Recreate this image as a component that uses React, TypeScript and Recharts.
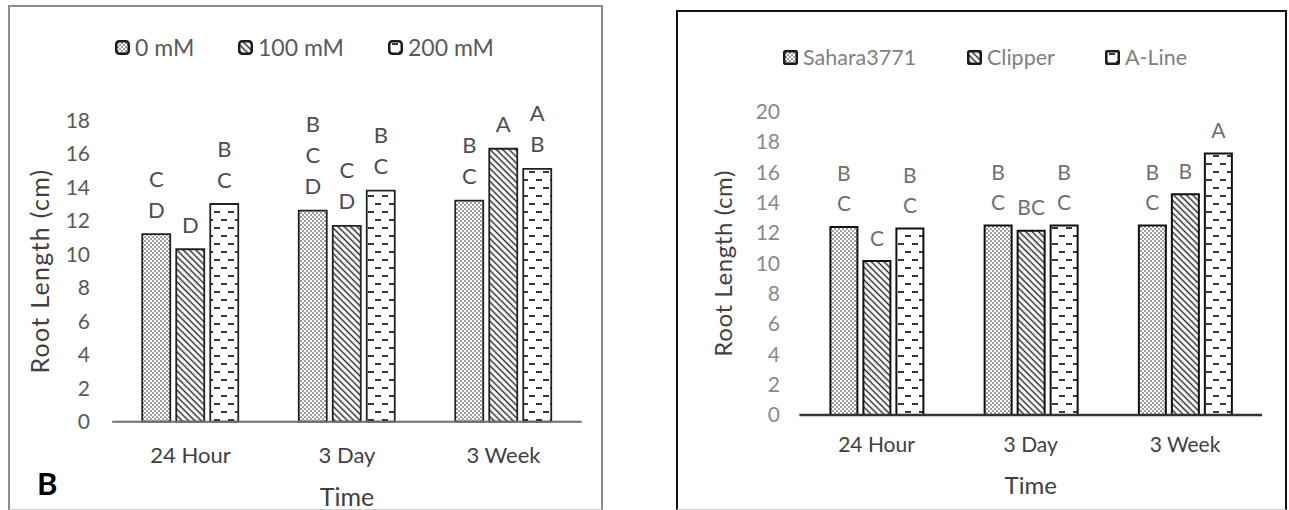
import { BarChart, Bar, XAxis, YAxis, Legend, LabelList, Label } from 'recharts'

const periods = ['24 Hour', '3 Day', '3 Week']

// panel B – salt treatments
const saltNames = ['0 mM', '100 mM', '200 mM']
const salt0 = [11.2, 12.6, 13.2]
const salt100 = [10.3, 11.7, 16.3]
const salt200 = [13.0, 13.8, 15.1]
const salt0Letters = ['C D', 'B C D', 'B C']
const salt100Letters = ['D', 'C D', 'A']
const salt200Letters = ['B C', 'B C', 'A B']
const saltTicks = [0, 2, 4, 6, 8, 10, 12, 14, 16, 18]

// cultivars
const cultivarNames = ['Sahara3771', 'Clipper', 'A-Line']
const sahara = [12.4, 12.5, 12.5]
const clipper = [10.15, 12.15, 14.55]
const aLine = [12.3, 12.5, 17.25]
const saharaLetters = ['B C', 'B C', 'B C']
const clipperLetters = ['C', 'BC', 'B']
const aLineLetters = ['B C', 'B C', 'A']
const cultivarTicks = [0, 2, 4, 6, 8, 10, 12, 14, 16, 18, 20]

const saltData = periods.map((p, i) => ({
  period: p,
  v0: salt0[i], v1: salt100[i], v2: salt200[i],
  l0: salt0Letters[i], l1: salt100Letters[i], l2: salt200Letters[i],
}))

const cultivarData = periods.map((p, i) => ({
  period: p,
  v0: sahara[i], v1: clipper[i], v2: aLine[i],
  l0: saharaLetters[i], l1: clipperLetters[i], l2: aLineLetters[i],
}))

const patternDefs = (p: string) => (
  <defs>
    <pattern id={`${p}-dots`} width="4" height="4" patternUnits="userSpaceOnUse">
      <rect width="4" height="4" fill="#fff" />
      <circle cx="1" cy="1" r="0.8" fill="#2a2a2a" />
      <circle cx="3" cy="3" r="0.8" fill="#2a2a2a" />
    </pattern>
    <pattern id={`${p}-hatch`} width="4.5" height="4.5" patternUnits="userSpaceOnUse" patternTransform="rotate(-45)">
      <rect width="4.5" height="4.5" fill="#fff" />
      <line x1="2.25" y1="0" x2="2.25" y2="4.5" stroke="#222" strokeWidth="1.4" />
    </pattern>
    <pattern id={`${p}-brick`} width="14" height="16" patternUnits="userSpaceOnUse">
      <rect width="14" height="16" fill="#fff" />
      <line x1="4" y1="4" x2="10" y2="4" stroke="#222" strokeWidth="1.8" />
      <line x1="-3" y1="12" x2="3" y2="12" stroke="#222" strokeWidth="1.8" />
      <line x1="11" y1="12" x2="17" y2="12" stroke="#222" strokeWidth="1.8" />
    </pattern>
  </defs>
)

const letterLabel = (gap: number, step: number, size: number, color: string) => (props: any) => {
  const vb = props.viewBox ?? props
  const { x, y, width } = vb
  if (props.value == null) return null
  const lines = String(props.value).split(' ')
  const n = lines.length
  return (
    <g>
      {lines.map((l, i) => (
        <text
          key={i}
          x={x + width / 2}
          y={y - gap - (n - 1 - i) * step}
          textAnchor="middle"
          dominantBaseline="central"
          fontSize={size}
          fill={color}
        >
          {l}
        </text>
      ))}
    </g>
  )
}

// legend keeps the series order (recharts sorts by name otherwise)
const legendContent = (order: string[], xs: number[], size: number, color: string, rounded: number) => (props: any) => {
  const items = [...(props.payload ?? [])].sort((a: any, b: any) => order.indexOf(a.value) - order.indexOf(b.value))
  return (
    <div style={{ position: 'relative', height: 30 }}>
      {items.map((e: any, i: number) => (
        <div key={e.value} style={{ position: 'absolute', left: xs[i], top: 0, height: 30, display: 'flex', alignItems: 'center', gap: 5 }}>
          <svg width={15} height={15}>
            <rect x={1.25} y={1.25} width={12.5} height={12.5} rx={rounded} fill={e.color} stroke="#1a1a1a" strokeWidth={2.5} />
          </svg>
          <span style={{ fontSize: size, color, lineHeight: '30px' }}>{e.value}</span>
        </div>
      ))}
    </div>
  )
}

const SaltChart = () => (
  <BarChart
    width={620}
    height={510}
    data={saltData}
    margin={{ top: 120.3, right: 38.25, bottom: 0, left: 0 }}
    barSize={28}
    barGap={6}
  >
    {patternDefs('salt')}
    <XAxis
      dataKey="period"
      height={88.3}
      tickLine={false}
      axisLine={{ stroke: '#6e6e6e', strokeWidth: 2 }}
      tick={{ fontSize: 22, fill: '#404040' }}
      tickMargin={19.4}
    >
      <Label value="Time" position="insideBottom" offset={4.3} style={{ fontSize: 25, fill: '#404040' }} />
      <Label
        content={() => (
          <text x={37} y={495} fontSize={31} fontWeight="bold" fill="#000">B</text>
        )}
      />
    </XAxis>
    <YAxis
      width={112.25}
      domain={[0, 18]}
      ticks={saltTicks}
      axisLine={false}
      tickLine={false}
      tickMargin={16.25}
      tick={{ fontSize: 21, fill: '#595959' }}
    >
      <Label value="Root Length (cm)" angle={-90} position="insideLeft" offset={40} style={{ fontSize: 25, fill: '#404040', textAnchor: 'middle', letterSpacing: 1.3 }} />
    </YAxis>
    <Legend
      verticalAlign="middle"
      wrapperStyle={{ top: 32, left: 0, width: 620, height: 30 }}
      content={legendContent(saltNames, [115, 238, 388], 23, '#595959', 3)}
    />
    <Bar dataKey="v0" name={saltNames[0]} fill="url(#salt-dots)" stroke="#222" strokeWidth={1.8} isAnimationActive={false}>
      <LabelList dataKey="l0" content={letterLabel(25, 31, 22, '#4d4d55')} />
    </Bar>
    <Bar dataKey="v1" name={saltNames[1]} fill="url(#salt-hatch)" stroke="#222" strokeWidth={1.8} isAnimationActive={false}>
      <LabelList dataKey="l1" content={letterLabel(25, 31, 22, '#4d4d55')} />
    </Bar>
    <Bar dataKey="v2" name={saltNames[2]} fill="url(#salt-brick)" stroke="#222" strokeWidth={1.8} isAnimationActive={false}>
      <LabelList dataKey="l2" content={letterLabel(25, 31, 22, '#4d4d55')} />
    </Bar>
  </BarChart>
)

const CultivarChart = () => (
  <BarChart
    width={619}
    height={510}
    data={cultivarData}
    margin={{ top: 111.7, right: 26.9, bottom: 0, left: 0 }}
    barSize={27}
    barGap={6}
  >
    {patternDefs('cult')}
    <XAxis
      dataKey="period"
      height={95}
      tickLine={false}
      axisLine={{ stroke: '#333', strokeWidth: 2.5 }}
      tick={{ fontSize: 21, fill: '#404040' }}
      tickMargin={16.4}
    >
      <Label value="Time" position="insideBottom" offset={16.4} style={{ fontSize: 24, fill: '#404040' }} />
    </XAxis>
    <YAxis
      width={129.4}
      domain={[0, 20]}
      ticks={cultivarTicks}
      axisLine={false}
      tickLine={false}
      tickMargin={13.4}
      tick={{ fontSize: 21, fill: '#8a8a8a' }}
    >
      <Label value="Root Length (cm)" angle={-90} position="insideLeft" offset={53} style={{ fontSize: 24, fill: '#404040', textAnchor: 'middle', letterSpacing: 0.6 }} />
    </YAxis>
    <Legend
      verticalAlign="middle"
      wrapperStyle={{ top: 42, left: 0, width: 619, height: 30 }}
      content={legendContent(cultivarNames, [113, 297, 435], 21.5, '#808080', 1)}
    />
    <Bar dataKey="v0" name={cultivarNames[0]} fill="url(#cult-dots)" stroke="#111" strokeWidth={2} isAnimationActive={false}>
      <LabelList dataKey="l0" content={letterLabel(24, 30, 21, '#707070')} />
    </Bar>
    <Bar dataKey="v1" name={cultivarNames[1]} fill="url(#cult-hatch)" stroke="#111" strokeWidth={2} isAnimationActive={false}>
      <LabelList dataKey="l1" content={letterLabel(24, 30, 21, '#707070')} />
    </Bar>
    <Bar dataKey="v2" name={cultivarNames[2]} fill="url(#cult-brick)" stroke="#111" strokeWidth={2} isAnimationActive={false}>
      <LabelList dataKey="l2" content={letterLabel(24, 30, 21, '#707070')} />
    </Bar>
  </BarChart>
)

export default function App() {
  return (
    <div style={{ position: 'absolute', left: 0, top: 0, width: 1289, height: 510, overflow: 'hidden', background: '#fff', fontFamily: 'Lato, sans-serif' }}>
      <div style={{ position: 'absolute', left: 8, top: 5, width: 595, height: 505, boxSizing: 'border-box', border: '2px solid #8c8c8c', borderBottom: '1px solid #d0d0d0' }} />
      <div style={{ position: 'absolute', left: 676, top: 10, width: 611, height: 500, boxSizing: 'border-box', border: '2px solid #111', borderBottom: '1px solid #d0d0d0' }} />
      <div style={{ position: 'absolute', left: 0, top: 0 }}>
        <SaltChart />
      </div>
      <div style={{ position: 'absolute', left: 670, top: 0 }}>
        <CultivarChart />
      </div>
    </div>
  )
}
